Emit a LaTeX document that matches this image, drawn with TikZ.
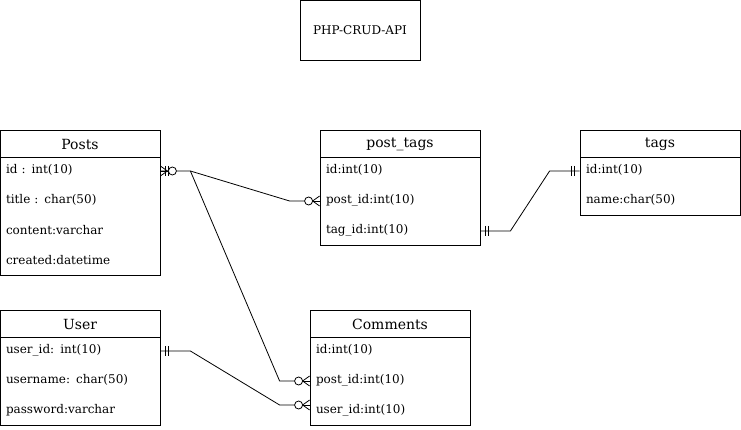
\documentclass[tikz,border=0pt]{standalone}
\usepackage{fontspec}
\setmainfont{DejaVu Serif}
\usetikzlibrary{calc}
\tikzset{
  hdr/.style={draw, minimum width=160pt, minimum height=27pt, inner sep=0pt, font=\fontsize{14}{16}\selectfont},
  hdrtext/.style={inner sep=0pt, font=\fontsize{14}{16}\selectfont},
  row/.style={anchor=center, text width=148pt, align=left, inner sep=0pt, minimum height=30pt, font=\fontsize{12}{14}\selectfont},
  tbl/.style={draw},
  titlebox/.style={draw, minimum width=120pt, minimum height=60pt, inner sep=0pt, font=\fontsize{12}{14}\selectfont},
}
\begin{document}
\begin{tikzpicture}[x=1pt,y=-1pt, line width=0.8pt]
\useasboundingbox (0,0) rectangle (741,430);
\node[titlebox] (title) at (360,30) {PHP-CRUD-API};
% Posts
\draw[tbl] (0,130) rectangle (160,275);
\node[hdr] (posts) at (80,143.5) {};
\node[hdrtext] at (80,144.5) {Posts};
\node[row] (p1) at (80,170) {id : int(10)};
\node[row] (p2) at (80,200) {title : char(50)};
\node[row] (p3) at (80,230) {content:varchar};
\node[row] (p4) at (80,260) {created:datetime};
% post_tags
\draw[tbl] (320,130) rectangle (480,245);
\node[hdr] (pt) at (400,143.5) {};
\node[hdrtext] at (400,144.5) {post\_tags};
\node[row] (pt1) at (400,170) {id:int(10)};
\node[row] (pt2) at (400,200) {post\_id:int(10)};
\node[row] (pt3) at (400,230) {tag\_id:int(10)};
% tags
\draw[tbl] (580,130) rectangle (740,215);
\node[hdr] (tags) at (660,143.5) {};
\node[hdrtext] at (660,144.5) {tags};
\node[row] (t1) at (660,170) {id:int(10)};
\node[row] (t2) at (660,200) {name:char(50)};
% User
\draw[tbl] (0,310) rectangle (160,425);
\node[hdr] (user) at (80,323.5) {};
\node[hdrtext] at (80,324.5) {User};
\node[row] (u1) at (80,350) {user\_id: int(10)};
\node[row] (u2) at (80,380) {username: char(50)};
\node[row] (u3) at (80,410) {password:varchar};
% Comments
\draw[tbl] (310,310) rectangle (470,425);
\node[hdr] (comm) at (390,323.5) {};
\node[hdrtext] at (390,324.5) {Comments};
\node[row] (c1) at (390,350) {id:int(10)};
\node[row] (c2) at (390,380) {post\_id:int(10)};
\node[row] (c3) at (390,410) {user\_id:int(10)};

\coordinate (pe) at ($(posts.east |- p1)+(0,1)$);
\coordinate (pte) at ($(pt.west |- pt2)+(0,1)$);
\coordinate (c2e) at ($(comm.west |- c2)+(0,1)$);
\coordinate (c3e) at ($(comm.west |- c3)+(0,-5)$);
\coordinate (pt3e) at ($(pt.east |- pt3)+(0,1)$);
\coordinate (t1e) at ($(tags.west |- t1)+(0,1)$);
\coordinate (u1e) at ($(user.east |- u1)+(0,1)$);

% connectors
\draw (pe) -- ++(30,0) coordinate (pk) -- ($(pte)+(-30,0)$) -- ($(pte)+(-15,0)$);
\draw (pk) -- ($(c2e)+(-30,0)$) -- ($(c2e)+(-15,0)$);
\draw (pt3e) -- ++(30,0) -- ($(t1e)+(-30,0)$) -- (t1e);
\draw (u1e) -- ++(30,0) -- ($(c3e)+(-30,0)$) -- ($(c3e)+(-15,0)$);

% zero-many markers (entity on right)
\foreach \e in {pte,c2e,c3e}{
  \draw ($(\e)+(-7,0)$) -- (\e);
  \draw ($(\e)+(-7,0)$) -- ($(\e)+(0,-5)$);
  \draw ($(\e)+(-7,0)$) -- ($(\e)+(0,5)$);
  \draw ($(\e)+(-11,0)$) circle[radius=4pt];
}
% mandatory one markers
\draw ($(pt3e)+(5,-5)$) -- ($(pt3e)+(5,5)$);
\draw ($(pt3e)+(8,-5)$) -- ($(pt3e)+(8,5)$);
\draw ($(t1e)+(-5,-5)$) -- ($(t1e)+(-5,5)$);
\draw ($(t1e)+(-8,-5)$) -- ($(t1e)+(-8,5)$);
\draw ($(u1e)+(5,-5)$) -- ($(u1e)+(5,5)$);
\draw ($(u1e)+(8,-5)$) -- ($(u1e)+(8,5)$);
% Posts end marker
\draw (pe) -- ($(pe)+(8,0)$);
\draw ($(pe)+(0,-5)$) -- ($(pe)+(7,0)$) -- ($(pe)+(0,5)$);
\draw ($(pe)+(5,-5)$) -- ($(pe)+(5,5)$);
\draw ($(pe)+(8,-5)$) -- ($(pe)+(8,5)$);
\draw[fill=white] ($(pe)+(12,0)$) circle[radius=4pt];
\end{tikzpicture}
\end{document}
